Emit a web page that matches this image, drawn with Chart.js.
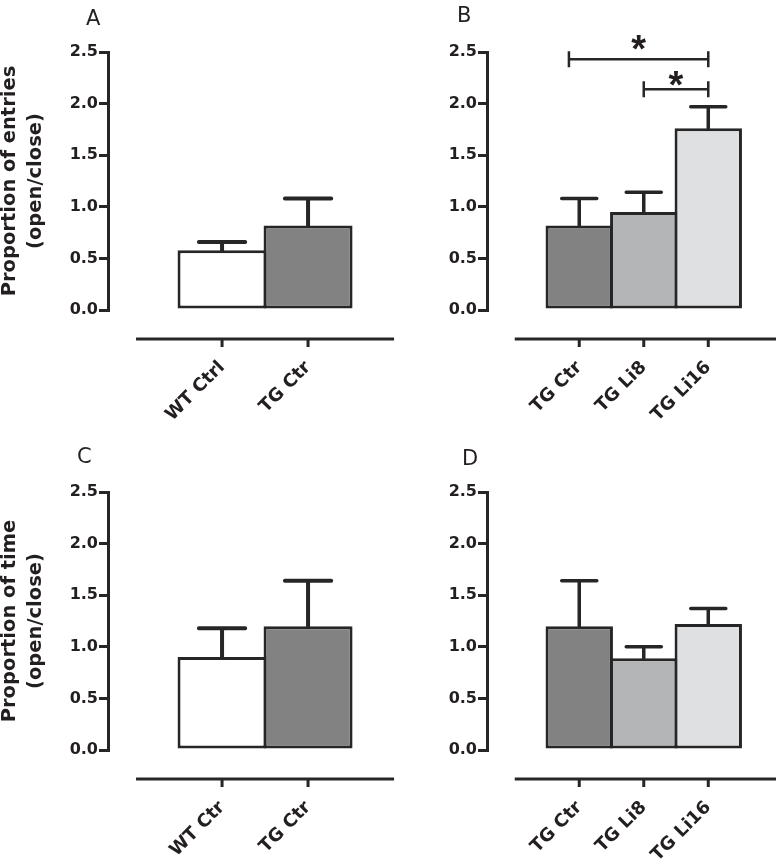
<!DOCTYPE html>
<html>
<head>
    <title>Proportion open/close</title>
    <meta charset="UTF-8">
    <script src="https://cdn.jsdelivr.net/npm/chart.js"></script>
    <style>
        body { margin: 0; background: #fff; width: 776px; height: 863px; position: relative; overflow: hidden; }
        canvas { position: absolute; }
    </style>
</head>
<body>
    <canvas id="chartA" width="400" height="440" style="left:0;top:0"></canvas>
    <canvas id="chartB" width="388" height="440" style="left:388px;top:0"></canvas>
    <canvas id="chartC" width="400" height="440" style="left:0;top:440px"></canvas>
    <canvas id="chartD" width="388" height="440" style="left:388px;top:440px"></canvas>

    <script>
        // A: entries, WT vs TG
        const labelsA = ['WT Ctrl', 'TG Ctr'];
        const meansA = [0.58, 0.82];
        const semA = [0.08, 0.26];

        // B: entries, lithium groups
        const labelsB = ['TG Ctr', 'TG Li8', 'TG Li16'];
        const meansB = [0.82, 0.95, 1.76];
        const semB = [0.26, 0.19, 0.21];

        // C: time, WT vs TG
        const labelsC = ['WT Ctr', 'TG Ctr'];
        const meansC = [0.90, 1.20];
        const semC = [0.28, 0.44];

        // D: time, lithium groups
        const labelsD = ['TG Ctr', 'TG Li8', 'TG Li16'];
        const meansD = [1.20, 0.89, 1.22];
        const semD = [0.44, 0.11, 0.15];

        const yTicks = [0, 0.5, 1, 1.5, 2, 2.5];

        // significance brackets in B (category positions, bracket height, star height)
        const sigFromB = [0.84, 2];
        const sigToB = [3, 3];
        const sigYB = [2.43, 2.14];
        const sigStarYB = [2.59, 2.24];
        const sigTextB = ['*', '*'];

        const ink = '#262626';
        const textInk = '#231f20';
        const fontFamily = '"DejaVu Sans", Verdana, sans-serif';
        const colorsWT = ['#ffffff', '#828282'];
        const colorsLi = ['#828282', '#b4b5b7', '#dfe0e2'];

        // error bars, detached category axis, brackets, panel letter
        const panelExtras = {
            id: 'panelExtras',
            afterDatasetsDraw(chart, args, o) {
                const ctx = chart.ctx;
                const x = chart.scales.x, y = chart.scales.y;
                const meta = chart.getDatasetMeta(0);
                const ds = chart.data.datasets[0];
                ctx.save();
                ctx.strokeStyle = ink;

                // error bars (mean + SEM)
                ctx.lineWidth = o.errWidth;
                ctx.lineCap = 'round';
                meta.data.forEach((bar, i) => {
                    const top = y.getPixelForValue(ds.data[i].y + o.sem[i]);
                    const half = bar.width * 0.26;
                    ctx.beginPath();
                    ctx.moveTo(bar.x, bar.y);
                    ctx.lineTo(bar.x, top);
                    ctx.moveTo(bar.x - half, top);
                    ctx.lineTo(bar.x + half, top);
                    ctx.stroke();
                });

                // category axis sits below the bars
                const ay = chart.chartArea.bottom + 29;
                ctx.lineWidth = 3;
                ctx.lineCap = 'butt';
                ctx.beginPath();
                ctx.moveTo(x.getPixelForValue(o.axisFrom), ay);
                ctx.lineTo(x.getPixelForValue(o.axisTo), ay);
                meta.data.forEach(bar => {
                    ctx.moveTo(bar.x, ay);
                    ctx.lineTo(bar.x, ay + 8);
                });
                ctx.stroke();

                // significance brackets
                (o.sigFrom || []).forEach((from, i) => {
                    const x1 = x.getPixelForValue(from);
                    const x2 = x.getPixelForValue(o.sigTo[i]);
                    const by = y.getPixelForValue(o.sigY[i]);
                    ctx.lineWidth = 2.5;
                    ctx.beginPath();
                    ctx.moveTo(x1, by); ctx.lineTo(x2, by);
                    ctx.moveTo(x1, by - 8); ctx.lineTo(x1, by + 8);
                    ctx.moveTo(x2, by - 8); ctx.lineTo(x2, by + 8);
                    ctx.stroke();
                    ctx.fillStyle = textInk;
                    ctx.font = 'bold 38px "Liberation Sans", Arial, sans-serif';
                    ctx.textAlign = 'center';
                    ctx.textBaseline = 'alphabetic';
                    ctx.fillText(o.sigText[i], (x1 + x2) / 2, y.getPixelForValue(o.sigStarY[i]) + 19);
                });

                // panel letter
                ctx.fillStyle = textInk;
                ctx.font = '21px ' + fontFamily;
                ctx.textAlign = 'left';
                ctx.textBaseline = 'alphabetic';
                ctx.fillText(o.letter, o.letterX, o.letterY);
                ctx.restore();
            }
        };

        function makePanel(id, labels, means, sem, colors, p) {
            new Chart(document.getElementById(id), {
                type: 'bar',
                data: {
                    datasets: [{
                        data: labels.map((l, i) => ({ x: i + 1, y: means[i] })),
                        backgroundColor: colors,
                        borderColor: ink,
                        borderWidth: 3,
                        borderSkipped: false,
                        barPercentage: p.barPct,
                        categoryPercentage: 1
                    }]
                },
                options: {
                    responsive: false,
                    animation: false,
                    events: [],
                    layout: { padding: { top: 52, left: 0, right: 0, bottom: 0 } },
                    plugins: {
                        legend: { display: false },
                        tooltip: { enabled: false },
                        panelExtras: {
                            sem: sem,
                            errWidth: p.errWidth,
                            axisFrom: 0,
                            axisTo: p.axisTo,
                            letter: p.letter,
                            letterX: p.letterX,
                            letterY: p.letterY,
                            sigFrom: p.sigFrom,
                            sigTo: p.sigTo,
                            sigY: p.sigY,
                            sigStarY: p.sigStarY,
                            sigText: p.sigText
                        }
                    },
                    scales: {
                        x: {
                            type: 'linear',
                            offset: false,
                            min: p.xMin,
                            max: p.xMax,
                            afterBuildTicks: s => { s.ticks = labels.map((l, i) => ({ value: i + 1 })); },
                            afterFit: s => { s.height = 130; s.paddingLeft = 0; s.paddingRight = 0; },
                            grid: { display: false, drawTicks: false },
                            border: { display: false },
                            ticks: {
                                autoSkip: false,
                                minRotation: 45,
                                maxRotation: 45,
                                padding: 47,
                                color: textInk,
                                font: { family: fontFamily, size: 18, weight: 'bold' },
                                callback: (v, i) => labels[i]
                            }
                        },
                        y: {
                            min: 0,
                            max: 2.5,
                            afterBuildTicks: s => { s.ticks = yTicks.map(v => ({ value: v })); },
                            afterFit: s => { s.width = p.yWidth; },
                            border: { display: true, color: ink, width: 3 },
                            grid: { drawOnChartArea: false, drawTicks: true, tickLength: 9, color: ink, lineWidth: 3 },
                            ticks: {
                                padding: 1,
                                color: textInk,
                                font: { family: fontFamily, size: 16, weight: 'bold' },
                                callback: v => v.toFixed(1)
                            },
                            title: {
                                display: !!p.title,
                                text: p.title || '',
                                color: textInk,
                                padding: { top: -3, bottom: 0 },
                                font: { family: fontFamily, size: 19.5, weight: 'bold', lineHeight: 1.33 }
                            }
                        }
                    }
                },
                plugins: [panelExtras]
            });
        }

        makePanel('chartA', labelsA, meansA, semA, colorsWT, {
            yWidth: 108, xMin: -0.326, xMax: 3.069, axisTo: 3.0, barPct: 1.035, errWidth: 4,
            letter: 'A', letterX: 86, letterY: 25,
            title: ['Proportion of entries', '(open/close)']
        });
        makePanel('chartB', labelsB, meansB, semB, colorsLi, {
            yWidth: 99, xMin: -0.43, xMax: 4.05, axisTo: 4.05, barPct: 1.045, errWidth: 3.5,
            letter: 'B', letterX: 69, letterY: 22,
            sigFrom: sigFromB, sigTo: sigToB, sigY: sigYB, sigStarY: sigStarYB, sigText: sigTextB
        });
        makePanel('chartC', labelsC, meansC, semC, colorsWT, {
            yWidth: 108, xMin: -0.326, xMax: 3.069, axisTo: 3.0, barPct: 1.035, errWidth: 4,
            letter: 'C', letterX: 77, letterY: 23,
            title: ['Proportion of time', '(open/close)']
        });
        makePanel('chartD', labelsD, meansD, semD, colorsLi, {
            yWidth: 99, xMin: -0.43, xMax: 4.05, axisTo: 4.05, barPct: 1.045, errWidth: 3.5,
            letter: 'D', letterX: 74, letterY: 25
        });
    </script>
</body>
</html>
